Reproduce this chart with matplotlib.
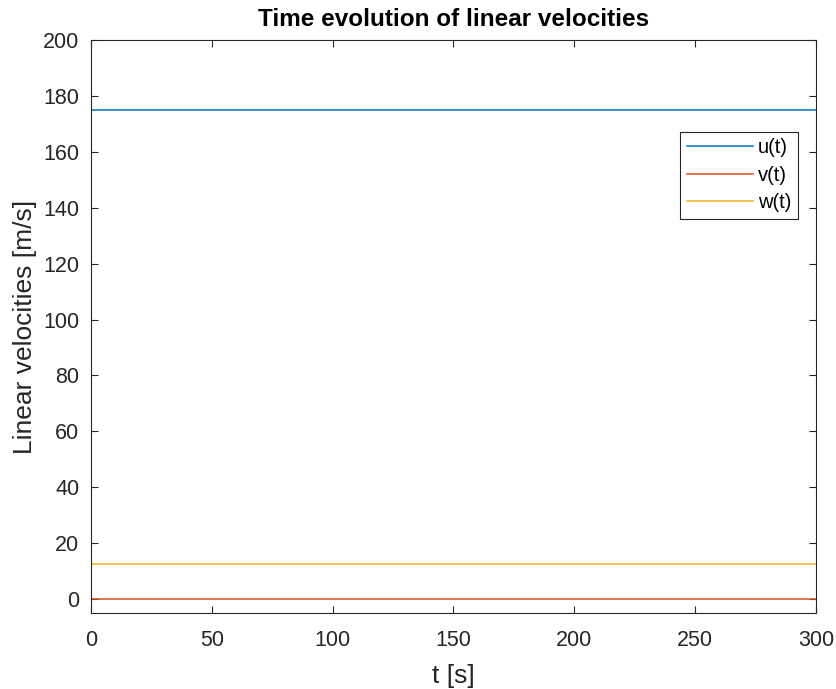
import numpy as np
import matplotlib
matplotlib.use('Agg')
from matplotlib import pyplot as plt

# valores
t = [0, 300]
u = [175.0, 175.0]
v = [0.0, 0.0]
w = [12.5, 12.5]
labels = ['u(t)', 'v(t)', 'w(t)']
colors = ['#0072BD', '#D95319', '#EDB120']

plt.rcParams['font.family'] = ['Liberation Sans', 'DejaVu Sans']

fig = plt.figure(figsize=(8.37, 6.89), dpi=100)
ax = fig.add_axes([0.1087, 0.1103, 0.8662, 0.8316])

for serie, lab, cor in zip([u, v, w], labels, colors):
    ax.plot(t, serie, color=cor, linewidth=1.1, label=lab)

ax.set_xlim(0, 300)
ax.set_ylim(-5, 200)
ax.set_xticks(np.arange(0, 301, 50))
ax.set_yticks(np.arange(0, 201, 20))
ax.tick_params(direction='in', top=True, right=True, labelsize=15.5,
               colors='#262626', length=5, width=0.8)
ax.tick_params(axis='y', pad=8.5)
ax.tick_params(axis='x', pad=12.5)
for s in ax.spines.values():
    s.set_color('#262626')
    s.set_linewidth(0.8)

ax.set_title('Time evolution of linear velocities', fontsize=17.5,
             fontweight='bold', pad=10)
ax.set_xlabel('t [s]', fontsize=19, color='#262626', labelpad=9)
ax.set_ylabel('Linear velocities [m/s]', fontsize=19, color='#262626', labelpad=4)

leg = ax.legend(loc='upper right', bbox_to_anchor=(0.975, 0.8394), fontsize=14.5,
                handlelength=3.3, handletextpad=0.25, borderpad=0.32,
                labelspacing=0.42, fancybox=False, framealpha=1,
                edgecolor='#262626', borderaxespad=0)
leg.get_frame().set_linewidth(0.8)

plt.savefig('out.png', dpi=100)
plt.close()
